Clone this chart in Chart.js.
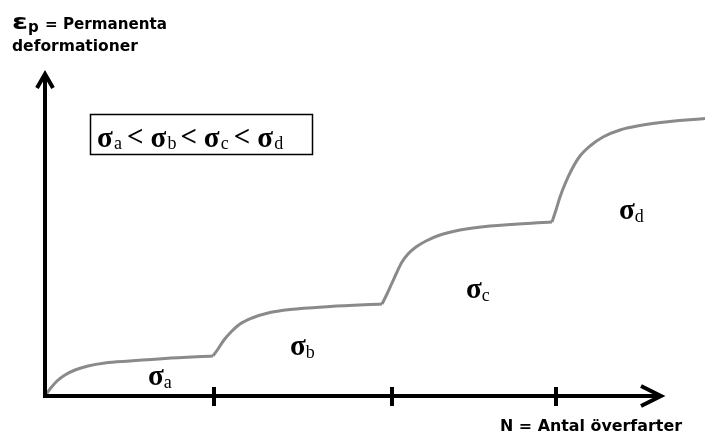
<!DOCTYPE html>
<html>
<head>
<meta charset="utf-8">
<script src="https://cdn.jsdelivr.net/npm/chart.js@4.4.1/dist/chart.umd.min.js"></script>
<style>
  html, body { margin: 0; padding: 0; background: #fff; }
  #wrap { width: 705px; height: 433px; position: relative; }
</style>
</head>
<body>
<div id="wrap"><canvas id="deformChart"></canvas></div>
<script>
// load levels, one per step of the curve
const stageNames = ['a', 'b', 'c', 'd'];
// N where the load level changes (tick marks on the N axis)
const stageEnds = [16.9, 34.7, 51.1];
// where the axis arrows end
const axisEndN = 62.0;
const axisEndEps = 32.6;

// permanent deformation for each load level
const nA   = [0, 0.5, 1.2, 2.0, 3.0, 4.3, 6.0, 8.5, 12.0, 16.8];
const epsA = [0, 0.7, 1.5, 2.1, 2.6, 3.0, 3.3, 3.5, 3.75, 4.0];

const nB   = [16.8, 17.3, 17.9, 18.6, 19.5, 20.7, 22.3, 24.5, 28.5, 33.7];
const epsB = [4.0, 4.7, 5.6, 6.4, 7.2, 7.8, 8.3, 8.65, 8.95, 9.2];

const nC   = [33.7, 34.2, 34.7, 35.2, 35.7, 36.3, 37.1, 38.1, 39.5, 41.5, 44.5, 50.7];
const epsC = [9.2, 10.2, 11.3, 12.4, 13.4, 14.2, 14.9, 15.5, 16.1, 16.6, 17.0, 17.4];

const nD   = [50.7, 51.1, 51.5, 52.0, 52.7, 53.5, 54.5, 55.8, 57.5, 59.5, 62.5, 66.0];
const epsD = [17.4, 18.6, 19.9, 21.2, 22.7, 24.0, 25.0, 25.9, 26.6, 27.05, 27.45, 27.75];

const segN = [nA, nB, nC, nD];
const segEps = [epsA, epsB, epsC, epsD];

function toPoints(xs, ys) {
    return xs.map((x, i) => ({ x: x, y: ys[i] }));
}

// draws a row of text pieces, optionally stretched to a given width
function drawRuns(ctx, runs, x, baseline, width) {
    let natural = 0;
    runs.forEach(r => { ctx.font = r.font; natural += ctx.measureText(r.t).width + (r.gap || 0); });
    const sx = width ? width / natural : 1;
    ctx.save();
    ctx.translate(x, baseline);
    ctx.scale(sx, 1);
    let cx = 0;
    runs.forEach(r => {
        ctx.font = r.font;
        ctx.fillText(r.t, cx, r.dy || 0);
        cx += ctx.measureText(r.t).width + (r.gap || 0);
    });
    ctx.restore();
}

const SANS = 'bold 16px "DejaVu Sans"';
const SERIF_B = 'bold 29px "Liberation Serif"';
const SERIF_LT = 'bold 29px "Liberation Serif"';
const SERIF_SUB = '18px "Liberation Serif"';

// arrows, ticks and all the text
const axesPlugin = {
    id: 'arrowAxes',
    afterDatasetsDraw(chart) {
        const ctx = chart.ctx;
        const xs = chart.scales.x, ys = chart.scales.y;
        const x0 = xs.getPixelForValue(0);
        const y0 = ys.getPixelForValue(0);
        const xTip = xs.getPixelForValue(axisEndN);
        const yTip = ys.getPixelForValue(axisEndEps);

        ctx.save();
        ctx.strokeStyle = '#000';
        ctx.lineWidth = 4;
        ctx.lineJoin = 'miter';
        ctx.lineCap = 'butt';

        ctx.beginPath();
        ctx.moveTo(x0, yTip + 5);
        ctx.lineTo(x0, y0 + 2);
        ctx.moveTo(x0 - 2, y0);
        ctx.lineTo(xTip - 5, y0);
        ctx.stroke();

        // arrow heads
        ctx.beginPath();
        ctx.moveTo(x0 - 8, yTip + 18);
        ctx.lineTo(x0, yTip + 4);
        ctx.lineTo(x0 + 8, yTip + 18);
        ctx.stroke();
        ctx.beginPath();
        ctx.moveTo(xTip - 24, y0 - 10);
        ctx.lineTo(xTip - 4, y0);
        ctx.lineTo(xTip - 24, y0 + 10);
        ctx.stroke();

        // ticks crossing the N axis
        ctx.beginPath();
        stageEnds.forEach(n => {
            const px = Math.round(xs.getPixelForValue(n));
            ctx.moveTo(px, y0 - 9);
            ctx.lineTo(px, y0 + 10);
        });
        ctx.stroke();

        ctx.fillStyle = '#000';
        ctx.textBaseline = 'alphabetic';

        // axis titles
        drawRuns(ctx, [{ t: 'ε', font: 'bold 21px "DejaVu Sans"' }], 12, 29, 16);
        drawRuns(ctx, [{ t: 'p', font: 'bold 15px "DejaVu Sans"' }], 28, 32);
        drawRuns(ctx, [{ t: '= Permanenta', font: SANS }], 45, 29, 122);
        drawRuns(ctx, [{ t: 'deformationer', font: SANS }], 12, 51, 126);
        drawRuns(ctx, [{ t: 'N = Antal överfarter', font: SANS }], 500, 431, 182);

        // legend box with the order of the load levels
        ctx.lineWidth = 1.5;
        ctx.strokeRect(90.5, 114.5, 222, 40);
        stageNames.forEach((s, i) => {
            const bx = 97 + i * 53.4;
            drawRuns(ctx, [{ t: 'σ', font: SERIF_B }], bx, 147);
            drawRuns(ctx, [{ t: s, font: SERIF_SUB }], bx + 17, 149);
            if (i < stageNames.length - 1) {
                drawRuns(ctx, [{ t: '<', font: SERIF_LT }], bx + 30, 146);
            }
        });

        // level label under each step
        const labelAt = [[10.3, 1.1], [24.5, 4.1], [42.1, 9.8], [57.4, 17.7]];
        stageNames.forEach((s, i) => {
            const px = xs.getPixelForValue(labelAt[i][0]);
            const py = ys.getPixelForValue(labelAt[i][1]);
            drawRuns(ctx, [
                { t: 'σ', font: SERIF_B },
                { t: s, font: SERIF_SUB, dy: 3 }
            ], px, py);
        });

        ctx.restore();
    }
};

const datasets = segN.map((xsArr, i) => ({
    label: 'σ' + stageNames[i],
    data: toPoints(xsArr, segEps[i]),
    borderColor: '#8a8a8a',
    borderWidth: 3,
    pointRadius: 0,
    fill: false,
    cubicInterpolationMode: 'monotone',
    clip: 6
}));

const config = {
    type: 'line',
    data: { datasets: datasets },
    options: {
        responsive: true,
        maintainAspectRatio: false,
        animation: false,
        layout: { padding: { left: 45, top: 60, right: 0, bottom: 37 } },
        plugins: {
            legend: { display: false },
            tooltip: { enabled: false }
        },
        scales: {
            x: { type: 'linear', min: 0, max: 66.0, display: false },
            y: { type: 'linear', min: 0, max: 33.6, display: false }
        }
    },
    plugins: [axesPlugin]
};

const deformChart = new Chart(document.getElementById('deformChart'), config);
</script>
</body>
</html>
